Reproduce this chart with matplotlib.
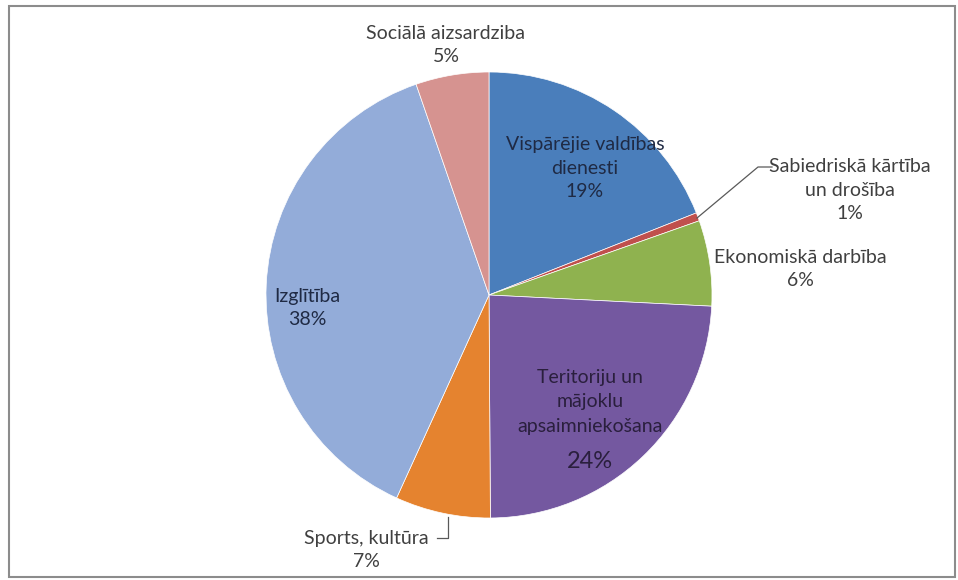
import matplotlib
matplotlib.use("Agg")
import matplotlib.pyplot as plt
from matplotlib.patches import Rectangle

# budget shares by function (%)
categories = ["Vispārējie valdības\ndienesti", "Sabiedriskā kārtība\nun drošība",
              "Ekonomiskā darbība", "Teritoriju un\nmājoklu\napsaimniekošana",
              "Sports, kultūra", "Izglītība", "Sociālā aizsardziba"]
shares = [19.0, 0.6, 6.2, 24.1, 6.9, 37.9, 5.3]
colors = ["#4a7ebb", "#c0504d", "#8fb24f", "#7458a0", "#e5832f", "#93acd9", "#d69390"]

# label placement in pixel coords (x, y from top), layout only
label_pos = [(585, 168), (850, 190), (800, 269), (590, 402), (366, 550),
             (307, 308), (446, 45)]
label_col = ["#1f2a44", "#404040", "#404040", "#2a1f3d", "#404040", "#1f2a44", "#404040"]

W, H = 958, 580
plt.rcParams["font.family"] = ["Lato", "DejaVu Sans"]
fig = plt.figure(figsize=(W / 100, H / 100), dpi=100)
ax = fig.add_axes([0, 0, 1, 1])
ax.set_aspect("equal"); ax.axis("off")

cx, cy, r = 489, H - 295, 223
ax.pie(shares, colors=colors, startangle=90, counterclock=False,
       center=(cx, cy), radius=r, frame=False,
       wedgeprops=dict(linewidth=0.5, edgecolor="white"))
ax.set_xlim(0, W); ax.set_ylim(0, H)

for i, (name, v) in enumerate(zip(categories, shares)):
    x, y = label_pos[i]
    pct = f"{round(v):.0f}%"
    if i == 3:
        ax.text(x, H - y, name, ha="center", va="center", fontsize=14,
                color=label_col[i], linespacing=1.55)
        ax.text(x, H - 462, pct, ha="center", va="center", fontsize=17,
                color=label_col[i])
    else:
        ax.text(x, H - y, f"{name}\n{pct}", ha="center", va="center",
                fontsize=14, color=label_col[i], linespacing=1.45)

# leader lines
ax.plot([697, 758, 772], [H - 218, H - 167, H - 167], color="#595959", lw=0.9)
ax.plot([448, 448, 437], [H - 517, H - 538, H - 538], color="#595959", lw=0.9)

ax.add_patch(Rectangle((9, 3), W - 12, H - 9, fill=False, edgecolor="#8c8c8c", lw=1.5))

fig.savefig("out.png", dpi=100)
